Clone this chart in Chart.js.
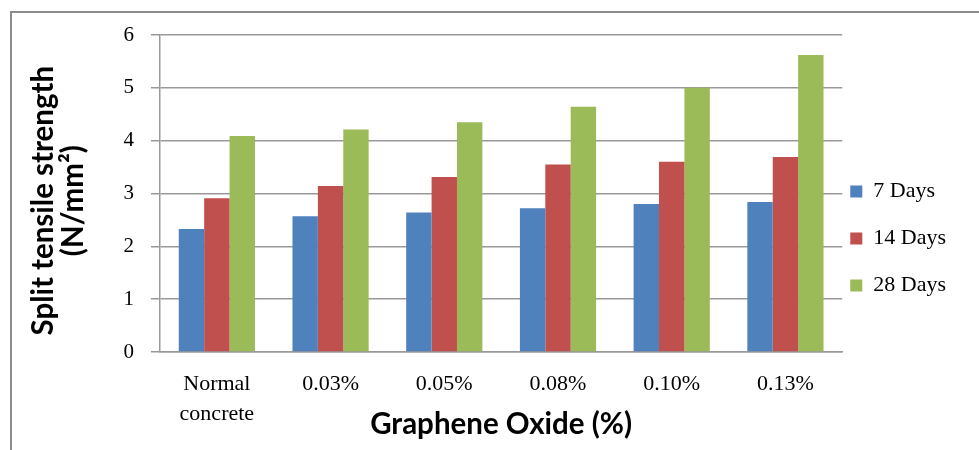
<!DOCTYPE html>
<html><head><meta charset="utf-8">
<script src="https://cdn.jsdelivr.net/npm/chart.js@4/dist/chart.umd.min.js"></script>
<style>html,body{margin:0;padding:0;background:#fff;overflow:hidden}#wrap{width:979px;height:450px;position:relative}</style>
</head><body><div id="wrap"><canvas id="c" width="979" height="450"></canvas></div>
<script>
const categories = [["Normal", "concrete"], "0.03%", "0.05%", "0.08%", "0.10%", "0.13%"];
const seriesNames = ["7 Days", "14 Days", "28 Days"];
const days7 = [2.33, 2.57, 2.64, 2.72, 2.80, 2.84];
const days14 = [2.91, 3.14, 3.31, 3.55, 3.60, 3.69];
const days28 = [4.09, 4.21, 4.35, 4.64, 5.00, 5.62];
const yTicks = [0, 1, 2, 3, 4, 5, 6];
const xTitle = "Graphene Oxide (%)";
const yTitle = ["Split tensile strength\u00A0\u00A0", "(N/mm\u00B2)\u00A0\u00A0"];

const colors = ["#4F81BD", "#C0504D", "#9BBB59"];
const serif = "'Liberation Serif', 'Times New Roman', serif";
const sans = "Lato, 'Open Sans', sans-serif";

const frame = {
  id: 'frame',
  beforeDraw(chart) {
    const ctx = chart.ctx;
    ctx.save();
    ctx.fillStyle = '#fff';
    ctx.fillRect(0, 0, chart.width, chart.height);
    ctx.strokeStyle = '#8c8c8c';
    ctx.lineWidth = 2;
    ctx.beginPath();
    ctx.moveTo(11, 450);
    ctx.lineTo(11, 12);
    ctx.lineTo(979, 12);
    ctx.stroke();
    ctx.restore();
  }
};
const legendShift = {
  id: 'legendShift',
  afterLayout(chart) {
    const lg = chart.legend;
    const dx = (chart.chartArea.right - 17) - lg.left;
    lg.left += dx; lg.right += dx;
  }
};

new Chart(document.getElementById('c'), {
  type: 'bar',
  data: {
    labels: categories,
    datasets: [
      { label: seriesNames[0], data: days7, backgroundColor: colors[0] },
      { label: seriesNames[1], data: days14, backgroundColor: colors[1] },
      { label: seriesNames[2], data: days28, backgroundColor: colors[2] }
    ]
  },
  plugins: [frame, legendShift],
  options: {
    responsive: false,
    animation: false,
    devicePixelRatio: 1,
    categoryPercentage: 0.67,
    barPercentage: 1.0,
    layout: { padding: { top: 35, left: 11, right: 6, bottom: 8 } },
    plugins: {
      tooltip: { enabled: false },
      legend: {
        position: 'right',
        align: 'center',
        labels: {
          color: '#000',
          font: { family: serif, size: 22 },
          boxWidth: 12, boxHeight: 12,
          padding: 25
        }
      }
    },
    scales: {
      x: {
        grid: { display: false, drawTicks: false },
        border: { color: '#999', width: 1.5 },
        ticks: { color: '#000', font: { family: serif, size: 22, lineHeight: 1.36 }, padding: 17, maxRotation: 0, autoSkip: false },
        title: { display: true, text: xTitle, color: '#000', font: { family: sans, size: 29.5, weight: 'bold', lineHeight: 1.2 }, padding: { top: 0, bottom: 0 } },
        afterFit(s) { s.height = 90; }
      },
      y: {
        min: 0, max: 6,
        afterBuildTicks(s) { s.ticks = yTicks.map(v => ({ value: v })); },
        grid: { color: '#999', lineWidth: 1.5, tickLength: 9, drawTicks: true },
        border: { color: '#999', width: 1.5 },
        ticks: { color: '#000', font: { family: serif, size: 21 }, padding: 17 },
        title: { display: true, text: yTitle, color: '#000', font: { family: sans, size: 29.5, weight: 'bold', lineHeight: 1.02 }, padding: { top: 17, bottom: 0 } },
        afterFit(s) { s.width = 149; }
      }
    }
  }
});
</script>
</body></html>
